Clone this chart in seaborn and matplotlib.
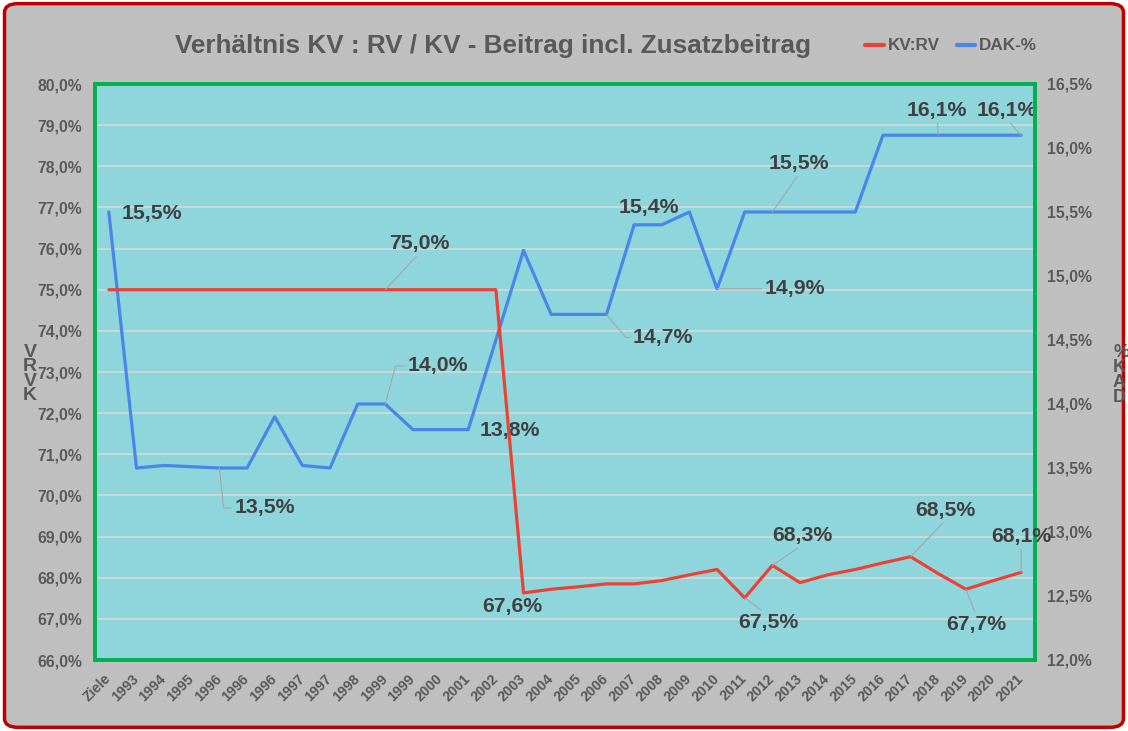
import numpy as np
import pandas as pd
import matplotlib
matplotlib.use("Agg")
import matplotlib.pyplot as plt
import seaborn as sns
from matplotlib.patches import FancyBboxPatch
from matplotlib.ticker import FuncFormatter, MultipleLocator, FixedLocator
from matplotlib.lines import Line2D

# ---------------- data ----------------
categories = ["Ziele", "1993", "1994", "1995", "1996", "1996", "1996", "1997", "1997",
              "1998", "1999", "1999", "2000", "2001", "2002", "2003", "2004", "2005",
              "2006", "2007", "2008", "2009", "2010", "2011", "2012", "2013", "2014",
              "2015", "2016", "2017", "2018", "2019", "2020", "2021"]
kv_rv = [75.0, 75.0, 75.0, 75.0, 75.0, 75.0, 75.0, 75.0, 75.0, 75.0, 75.0, 75.0,
         75.0, 75.0, 75.0, 67.63, 67.72, 67.78, 67.85, 67.85, 67.93, 68.07, 68.2,
         67.51, 68.3, 67.88, 68.07, 68.2, 68.36, 68.51, 68.1, 67.72, 67.93, 68.13]
dak = [15.5, 13.5, 13.52, 13.51, 13.5, 13.5, 13.9, 13.52, 13.5, 14.0, 14.0, 13.8,
       13.8, 13.8, 14.5, 15.2, 14.7, 14.7, 14.7, 15.4, 15.4, 15.5, 14.9, 15.5, 15.5,
       15.5, 15.5, 15.5, 16.1, 16.1, 16.1, 16.1, 16.1, 16.1]
series_names = ["KV:RV", "DAK-%"]
title = "Verhältnis KV : RV / KV - Beitrag incl. Zusatzbeitrag"

# label specs: (index, dx_px, dy_px, leader, connection, relpos)
red_labels = [
    (10, 34, 46, True, "arc3", (0.5, 0.0)),
    (15, -11, -14, False, None, None),
    (23, 24, -25, True, "arc3", (0.45, 1.0)),
    (24, 30, 30, True, "arc3", (0.5, 0.0)),
    (29, 35, 46, True, "arc3", (0.5, 0.0)),
    (31, 10, -35, True, "arc3", (0.5, 1.0)),
    (33, 0, 36, True, "arc3", (0.5, 0.0)),
]
blue_labels = [
    (0, 43, -2, False, None, None),
    (4, 45, -40, True, "angle,angleA=180,angleB=-84,rad=0", (0.0, 0.5)),
    (10, 53, 38, True, "angle,angleA=180,angleB=75,rad=0", (0.0, 0.5)),
    (13, 42, -1, False, None, None),
    (18, 56, -23, True, "angle,angleA=180,angleB=-50,rad=0", (0.0, 0.5)),
    (19, 15, 17, False, None, None),
    (22, 78, 0, True, "arc3", (0.0, 0.5)),
    (24, 27, 48, True, "arc3", (0.5, 0.0)),
    (30, -1, 25, True, "arc3", (0.5, 0.0)),
    (33, -14, 25, True, "arc3", (0.5, 0.0)),
]

df = pd.DataFrame({"pos": np.arange(len(categories)), "cat": categories,
                   "kv_rv": kv_rv, "dak": dak})

# ---------------- style ----------------
sns.set_theme(style="white")
plt.rcParams["font.family"] = ["Liberation Sans", "DejaVu Sans"]
plt.rcParams["font.weight"] = "bold"

RED = "#EA4335"
BLUE = "#4A86E8"
GRAY_TXT = "#595959"
LBL_TXT = "#404040"
PLOT_BG = "#8FD6DC"
FIG_BG = "#BFBFBF"

fig = plt.figure(figsize=(11.28, 7.31), dpi=100)
fig.patch.set_facecolor("white")
bg = FancyBboxPatch((0.004, 0.005), 0.992, 0.99,
                    boxstyle="round,pad=0,rounding_size=0.012",
                    transform=fig.transFigure, facecolor=FIG_BG,
                    edgecolor="#C00000", linewidth=2.5, zorder=-1)
fig.patches.append(bg)

ax = fig.add_axes([95 / 1128, 1 - 660 / 731, 940 / 1128, 576 / 731])
ax2 = ax.twinx()
ax.set_zorder(2)
ax.patch.set_visible(False)
ax2.patch.set_visible(True)
ax2.set_facecolor(PLOT_BG)

sns.lineplot(data=df, x="pos", y="dak", ax=ax2, color=BLUE, linewidth=2.3, legend=False)
sns.lineplot(data=df, x="pos", y="kv_rv", ax=ax, color=RED, linewidth=2.3, legend=False)

ax.set_xlim(-0.5, len(categories) - 0.5)
ax.set_ylim(66, 80)
ax2.set_ylim(12, 16.5)
ax.yaxis.set_major_locator(MultipleLocator(1))
ax2.yaxis.set_major_locator(MultipleLocator(0.5))
fmt = FuncFormatter(lambda v, p: f"{v:.1f}".replace(".", ",") + "%")
ax.yaxis.set_major_formatter(fmt)
ax2.yaxis.set_major_formatter(fmt)

# gridlines (at left-axis majors) drawn on the lower axes
grid_left = np.arange(66, 81, 1)
grid_right = 12 + (grid_left - 66) * 4.5 / 14
ax2.yaxis.set_minor_locator(FixedLocator(grid_right))
ax2.grid(which="minor", axis="y", color="#D9D9D9", linewidth=1.1)
ax2.grid(which="major", visible=False)
ax.grid(False)

ax.set_xticks(df["pos"])
ax.set_xticklabels(categories, rotation=45, ha="right", va="center",
                   rotation_mode="anchor")
ax.tick_params(axis="x", length=0, pad=12, labelsize=10.3, labelcolor=GRAY_TXT)
ax.tick_params(axis="y", length=0, pad=9, labelsize=11.3, labelcolor=GRAY_TXT)
ax2.tick_params(axis="y", length=0, pad=9, labelsize=11.3, labelcolor=GRAY_TXT, which="both")
ax.set_xlabel("")
ax.set_ylabel("")
ax2.set_ylabel("")

for s in ax.spines.values():
    s.set_color("#00B050")
    s.set_linewidth(2.8)
for s in ax2.spines.values():
    s.set_visible(False)


def add_labels(axis, values, specs):
    for idx, dx, dy, leader, conn, relpos in specs:
        v = values[idx]
        txt = f"{v:.1f}".replace(".", ",") + "%"
        kw = {}
        if leader:
            kw["arrowprops"] = dict(arrowstyle="-", color="#A6A6A6", lw=0.8,
                                    shrinkA=0, shrinkB=0, relpos=relpos,
                                    connectionstyle=conn)
        axis.annotate(txt, xy=(idx, v), xytext=(dx, dy), textcoords="offset pixels",
                      ha="center", va="center", fontsize=15.3, color=LBL_TXT,
                      fontweight="bold", annotation_clip=False, **kw)


add_labels(ax, kv_rv, red_labels)
add_labels(ax2, dak, blue_labels)

# title and legend
fig.text(493 / 1128, 1 - 46 / 731, title, ha="center", va="center",
         fontsize=18.8, color=GRAY_TXT, fontweight="bold")
handles = [Line2D([0], [0], color=RED, lw=3), Line2D([0], [0], color=BLUE, lw=3)]
leg = fig.legend(handles, series_names, loc="center", bbox_to_anchor=(951 / 1128, 1 - 46 / 731),
                 ncol=2, frameon=False, handlelength=1.1, handletextpad=0.2,
                 columnspacing=1.0, fontsize=12.3)
for t in leg.get_texts():
    t.set_color(GRAY_TXT)

# stacked axis titles
fig.text(30 / 1128, 1 - 374 / 731, "V\nR\nV\nK", ha="center", va="center",
         fontsize=14, color=GRAY_TXT, fontweight="bold", linespacing=0.8)
fig.text(1113 / 1128, 1 - 375 / 731, "%\nK\nA\nD", ha="left", va="center",
         fontsize=13, color=GRAY_TXT, fontweight="bold", linespacing=0.85)

fig.savefig("out.png", dpi=100, facecolor=fig.get_facecolor())
